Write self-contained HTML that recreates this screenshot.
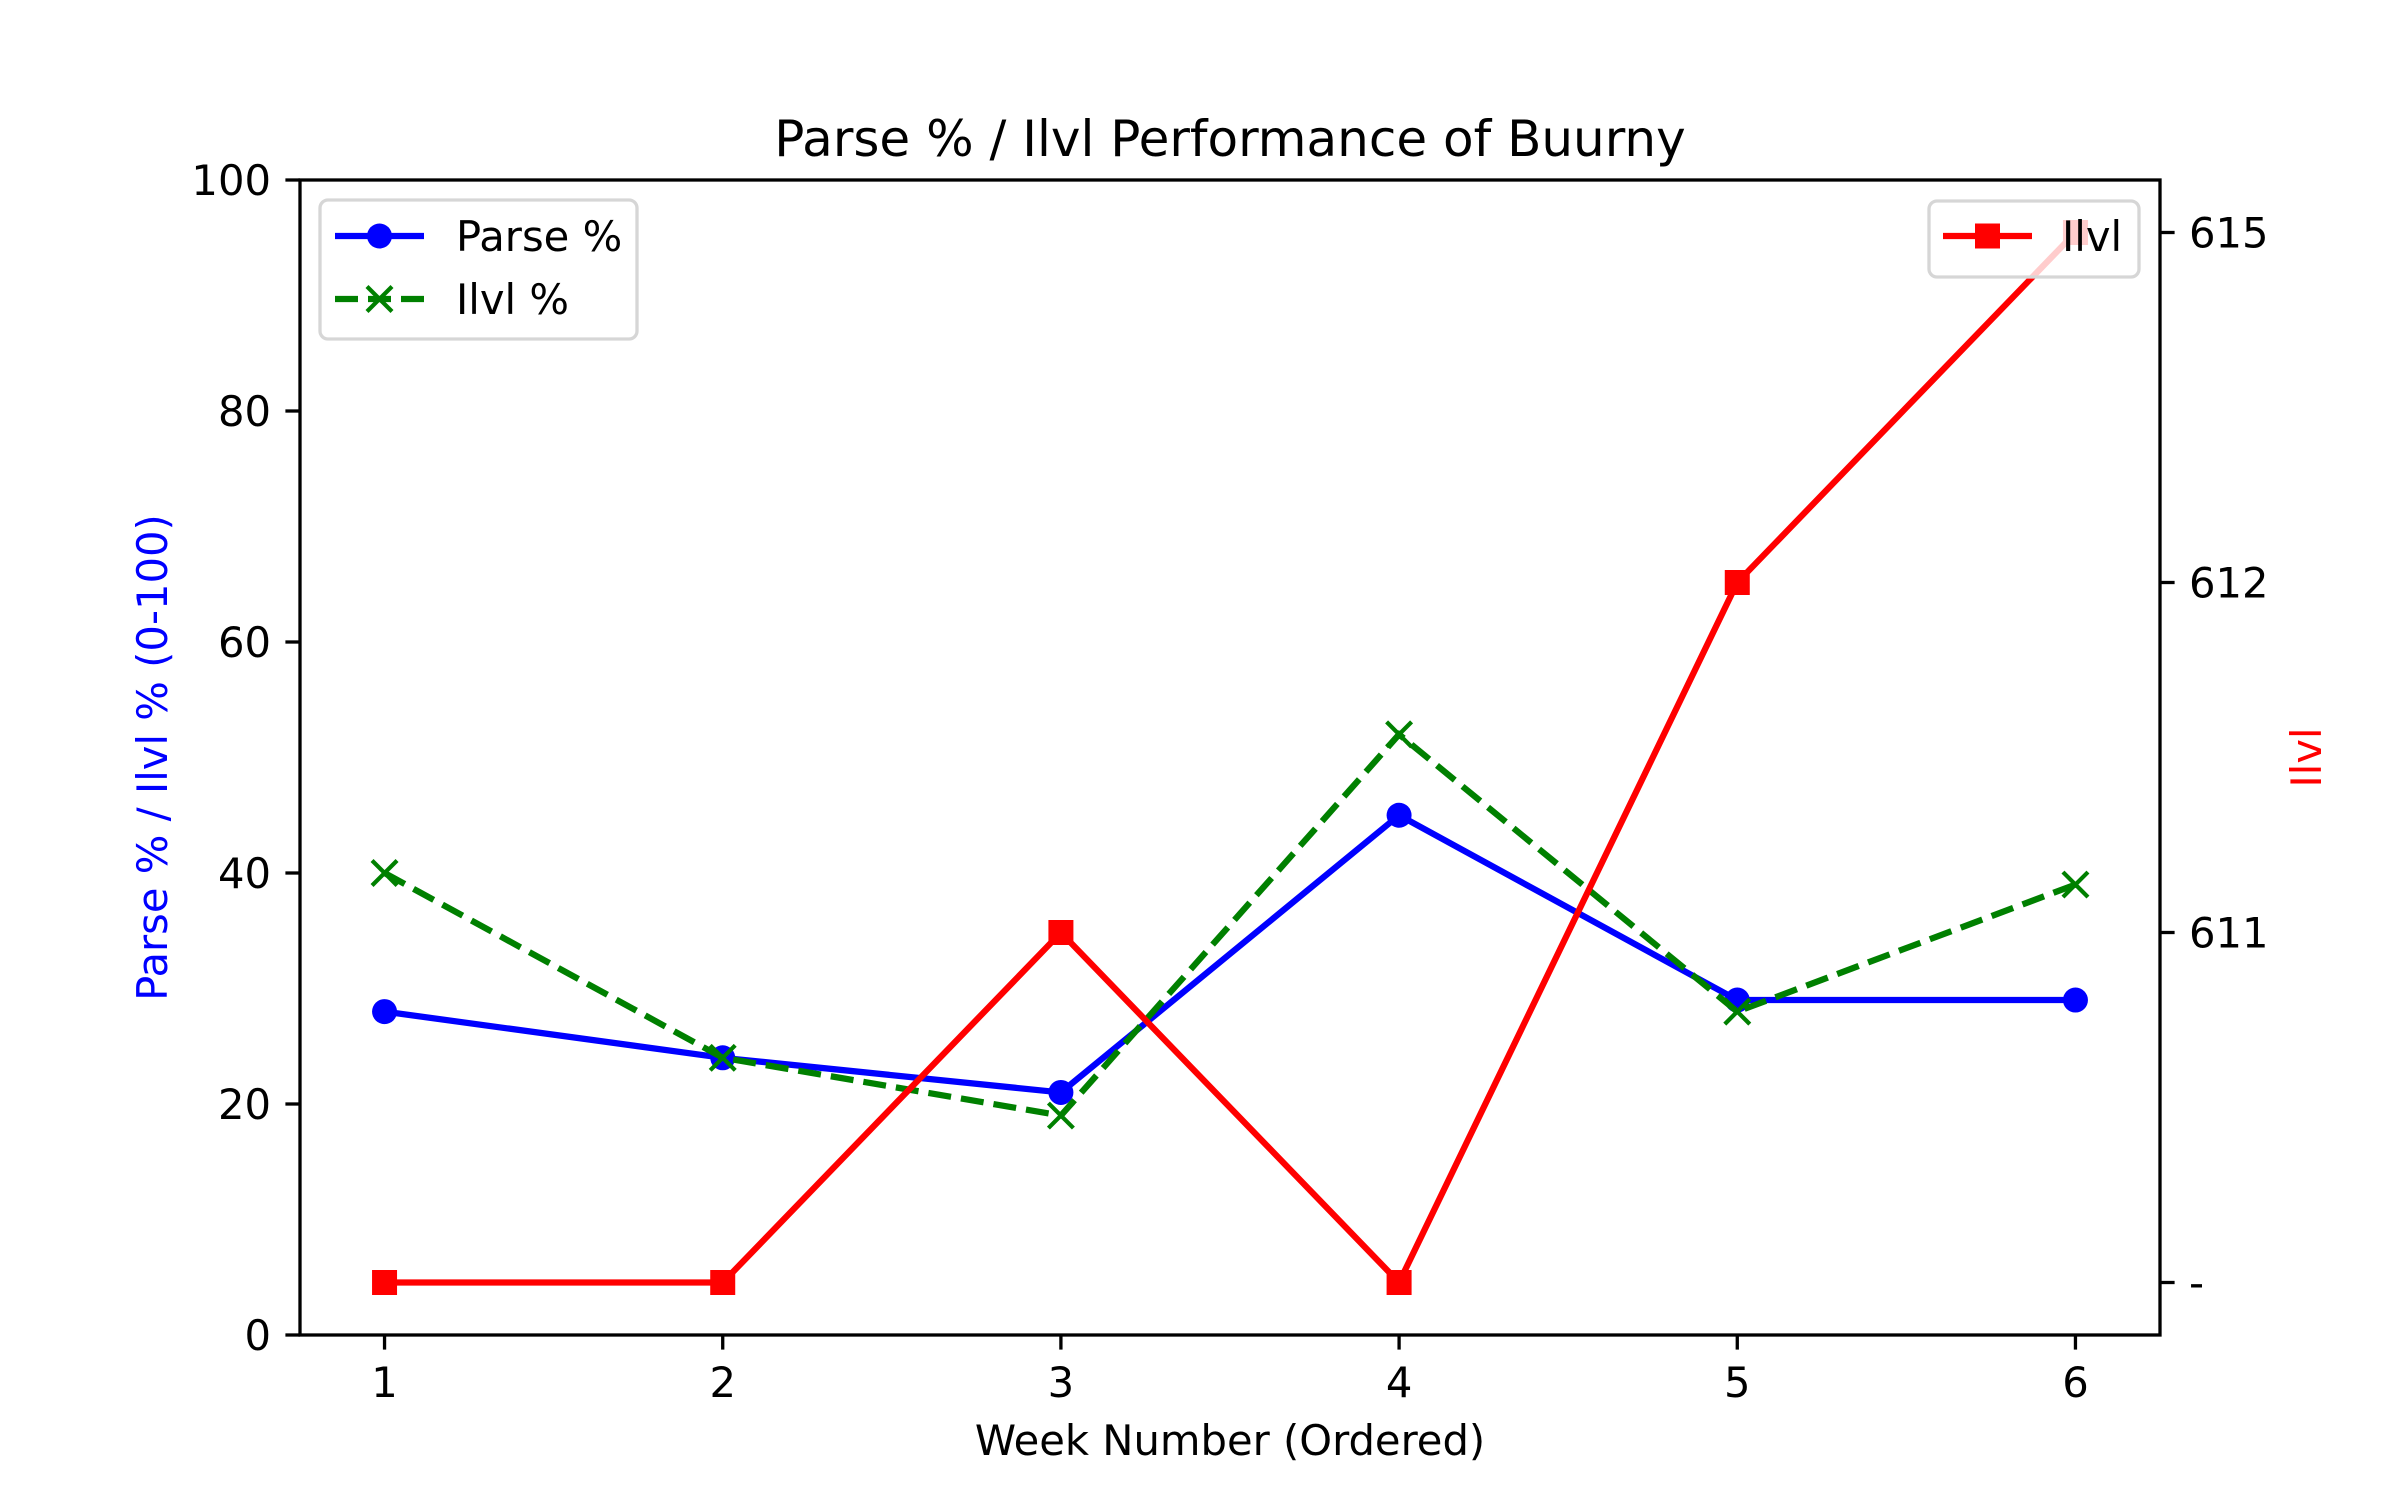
<!DOCTYPE html>
<html><head><meta charset="utf-8"><style>
html,body{margin:0;padding:0;background:#fff;}
svg{display:block;font-family:"DejaVu Sans","Liberation Sans",sans-serif;}
</style></head>
<body>
<svg id="chart" width="2400" height="1500" viewBox="0 0 2400 1500" xmlns="http://www.w3.org/2000/svg">
<rect x="0" y="0" width="2400" height="1500" fill="#fff"/>
<g id="plot"></g>
</svg>
<script>
const weeks = [1, 2, 3, 4, 5, 6];
const parsePct = [28, 24, 21, 45, 29, 29];
const ilvlPct = [40, 24, 19, 52, 28, 39];
const ilvlCats = ["-", "611", "612", "615"];
const ilvlVals = ["-", "-", "611", "-", "612", "615"];
const leftTicks = [0, 20, 40, 60, 80, 100];

const NS = "http://www.w3.org/2000/svg";
const L = 300, R = 2160, T = 180, B = 1335;
const xMin = 0.75, xMax = 6.25;
const xs = v => L + (v - xMin) / (xMax - xMin) * (R - L);
const yl = v => B - v / 100 * (B - T);
const yr = c => B - (ilvlCats.indexOf(c) + 0.15) / (ilvlCats.length - 1 + 0.3) * (B - T);
const g = document.getElementById('plot');
function el(tag, attrs, parent) {
  const e = document.createElementNS(NS, tag);
  for (const k in attrs) e.setAttribute(k, attrs[k]);
  (parent || g).appendChild(e);
  return e;
}
function txt(s, attrs, parent) { const e = el('text', attrs, parent); e.textContent = s; return e; }

const lp = el('polyline', {points: weeks.map((w,i)=>xs(w)+','+yl(parsePct[i])).join(' '), fill:'none', stroke:'#0000ff', 'stroke-width':6.25, 'stroke-linejoin':'round'});


weeks.forEach((w,i)=>{
  const c = el('circle', {cx:xs(w), cy:yl(parsePct[i]), r:12.5, fill:'#0000ff'});
  
  
});
const gl = el('polyline', {points: weeks.map((w,i)=>xs(w)+','+yl(ilvlPct[i])).join(' '), fill:'none', stroke:'#008000', 'stroke-width':6.25, 'stroke-dasharray':'23,10'});


weeks.forEach((w,i)=>{
  const x = xs(w), y = yl(ilvlPct[i]), s = 12.5;
  const m = el('path', {d:`M${x-s},${y-s}L${x+s},${y+s}M${x-s},${y+s}L${x+s},${y-s}`, stroke:'#008000', 'stroke-width':4.2});
  
  
});

const lg = el('g', {});


el('rect', {x:320, y:200, width:317, height:139, rx:8, fill:'#fff', 'fill-opacity':0.8, stroke:'#d6d6d6', 'stroke-width':3.3}, lg);
el('line', {x1:335, y1:236, x2:424, y2:236, stroke:'#0000ff', 'stroke-width':6.25}, lg);
el('circle', {cx:379.5, cy:236, r:12.5, fill:'#0000ff'}, lg);
txt('Parse %', {x:456, y:251, 'font-size':41.7, fill:'#000'}, lg);
el('line', {x1:335, y1:299, x2:424, y2:299, stroke:'#008000', 'stroke-width':6.25, 'stroke-dasharray':'23,10'}, lg);
el('path', {d:'M367,286.5L392,311.5M367,311.5L392,286.5', stroke:'#008000', 'stroke-width':4.2}, lg);
txt('Ilvl %', {x:456, y:314, 'font-size':41.7, fill:'#000'}, lg);

const rp = el('polyline', {points: weeks.map((w,i)=>xs(w)+','+yr(ilvlVals[i])).join(' '), fill:'none', stroke:'#ff0000', 'stroke-width':6.25, 'stroke-linejoin':'round'});


weeks.forEach((w,i)=>{
  const r = el('rect', {x:xs(w)-12.5, y:yr(ilvlVals[i])-12.5, width:25, height:25, fill:'#ff0000'});
  
  
});

const rg = el('g', {});


el('rect', {x:1929, y:201, width:210, height:76, rx:8, fill:'#fff', 'fill-opacity':0.8, stroke:'#d6d6d6', 'stroke-width':3.3}, rg);
el('line', {x1:1943, y1:236, x2:2032, y2:236, stroke:'#ff0000', 'stroke-width':6.25}, rg);
el('rect', {x:1975, y:223.5, width:25, height:25, fill:'#ff0000'}, rg);
txt('Ilvl', {x:2062, y:251, 'font-size':41.7, fill:'#000'}, rg);

const fr = el('rect', {x:L, y:T, width:R-L, height:B-T, fill:'none', stroke:'#000', 'stroke-width':3.3});



weeks.forEach(w=>{
  el('line', {x1:xs(w), y1:B, x2:xs(w), y2:B+14.6, stroke:'#000', 'stroke-width':3.3});
  const t = txt(String(w), {x:xs(w), y:1397, 'font-size':41.7, 'text-anchor':'middle', fill:'#000'});
  
  
});
leftTicks.forEach(v=>{
  el('line', {x1:L, y1:yl(v), x2:L-14.6, y2:yl(v), stroke:'#000', 'stroke-width':3.3});
  const t = txt(String(v), {x:271, y:yl(v)+15, 'font-size':41.7, 'text-anchor':'end', fill:'#000'});
  
  
});
ilvlCats.forEach(c=>{
  el('line', {x1:R, y1:yr(c), x2:R+14.6, y2:yr(c), stroke:'#000', 'stroke-width':3.3});
  const t = txt(c, {x:2189, y:yr(c)+15, 'font-size':41.7, fill:'#000'});
  
  
});

const ti = txt('Parse % / Ilvl Performance of Buurny', {x:1230, y:156, 'font-size':50, 'text-anchor':'middle', fill:'#000'});


const xl = txt('Week Number (Ordered)', {x:1230, y:1455, 'font-size':41.7, 'text-anchor':'middle', fill:'#000'});


const ylb = txt('Parse % / Ilvl % (0-100)', {x:0, y:0, 'font-size':41.7, 'text-anchor':'middle', fill:'#0000ff', transform:'translate(167,757.5) rotate(-90)'});


const yrb = txt('Ilvl', {x:0, y:0, 'font-size':41.7, 'text-anchor':'middle', fill:'#ff0000', transform:'translate(2321,757.5) rotate(-90)'});


</script>
</body></html>
